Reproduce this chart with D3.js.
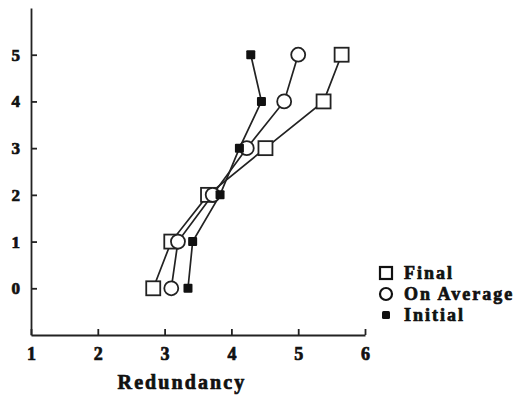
<!DOCTYPE html>
<html>
<head>
<meta charset="utf-8">
<script src="https://cdn.jsdelivr.net/npm/d3@7"></script>
<style>
  body { margin: 0; background: #fff; }
</style>
</head>
<body>
<svg id="canvas"></svg>
<script>
let w = 516
let h = 398
let serif = '"Liberation Serif", "DejaVu Serif", "Times New Roman", serif'

// levels on the vertical axis
let levels = [0, 1, 2, 3, 4, 5]
// redundancy for each series, one value per level
let finalVals = [2.83, 3.1, 3.65, 4.51, 5.38, 5.65]
let averageVals = [3.1, 3.2, 3.72, 4.23, 4.79, 5.0]
let initialVals = [3.35, 3.42, 3.83, 4.12, 4.45, 4.29]

let xTicks = [1, 2, 3, 4, 5, 6]
let yTicks = [0, 1, 2, 3, 4, 5]
let legendNames = ['Final', 'On Average', 'Initial']

let canvas = d3.select('#canvas').attr('width', w).attr('height', h)

let xScale = d3.scaleLinear().domain([1, 6]).range([31, 365])
let yScale = d3.scaleLinear().domain([-1, 6]).range([335, 8])

// heavy print look for all labels
let boldText = (sel, size) => {
  sel.style('font-family', serif).style('font-weight', 'bold')
    .style('font-size', size + 'px')
    .attr('fill', '#111').attr('stroke', '#111').attr('stroke-width', 0.7)
}

// axes, ticks point inward
let xAxis = d3.axisBottom(xScale).tickValues(xTicks).tickFormat(d3.format('d'))
  .tickSizeInner(-6).tickSizeOuter(0).tickPadding(12)
let gx = canvas.append('g').attr('transform', 'translate(0,' + yScale(-1) + ')').call(xAxis)
gx.select('.domain').attr('stroke', '#222').attr('stroke-width', 1.8)
gx.selectAll('.tick line').attr('stroke', '#222').attr('stroke-width', 1.8)
boldText(gx.selectAll('text'), 18)

let yAxis = d3.axisLeft(yScale).tickValues(yTicks).tickFormat(d3.format('d'))
  .tickSizeInner(-6).tickSizeOuter(0).tickPadding(11)
let gy = canvas.append('g').attr('transform', 'translate(' + xScale(1) + ',0)').call(yAxis)
gy.select('.domain').attr('stroke', '#222').attr('stroke-width', 1.8)
gy.selectAll('.tick line').attr('stroke', '#222').attr('stroke-width', 1.8)
boldText(gy.selectAll('text'), 17)

let xLabel = canvas.append('text')
  .attr('x', 182).attr('y', 389)
  .attr('text-anchor', 'middle')
  .style('letter-spacing', '2.1px')
  .text('Redundancy')
boldText(xLabel, 20)

let line = d3.line()
  .x((d) => xScale(d[0]))
  .y((d) => yScale(d[1]))

let series = [
  { name: 'Final', vals: finalVals, shape: 'square' },
  { name: 'On Average', vals: averageVals, shape: 'circle' },
  { name: 'Initial', vals: initialVals, shape: 'filled' }
]

series.forEach((s) => {
  let pts = s.vals.map((v, i) => [v, levels[i]])
  canvas.append('path')
    .datum(pts)
    .attr('d', line)
    .attr('fill', 'none')
    .attr('stroke', '#222')
    .attr('stroke-width', 1.7)
})

let drawMarker = (g, shape, cx, cy) => {
  if (shape === 'square') {
    g.append('rect').attr('x', cx - 7).attr('y', cy - 7).attr('width', 14).attr('height', 14)
      .attr('fill', '#fff').attr('stroke', '#222').attr('stroke-width', 1.8)
  } else if (shape === 'circle') {
    g.append('circle').attr('cx', cx).attr('cy', cy).attr('r', 7)
      .attr('fill', '#fff').attr('stroke', '#222').attr('stroke-width', 1.8)
  } else {
    g.append('rect').attr('x', cx - 4.5).attr('y', cy - 4.5).attr('width', 9).attr('height', 9)
      .attr('rx', 1).attr('fill', '#111')
  }
}

series.forEach((s) => {
  let g = canvas.append('g')
  s.vals.forEach((v, i) => drawMarker(g, s.shape, xScale(v), yScale(levels[i])))
})

// legend
let legend = canvas.append('g').attr('transform', 'translate(386,273)')
series.forEach((s, i) => {
  let g = legend.append('g').attr('transform', 'translate(0,' + (i * 21) + ')')
  if (s.shape === 'filled') {
    g.append('rect').attr('x', -4).attr('y', -4).attr('width', 8).attr('height', 8).attr('rx', 1.5).attr('fill', '#111')
  } else if (s.shape === 'circle') {
    g.append('circle').attr('r', 6).attr('fill', '#fff').attr('stroke', '#111').attr('stroke-width', 2.2)
  } else {
    g.append('rect').attr('x', -6).attr('y', -6).attr('width', 12).attr('height', 12)
      .attr('fill', '#fff').attr('stroke', '#111').attr('stroke-width', 2.2)
  }
  let t = g.append('text').attr('x', 18).attr('y', 6)
    .style('letter-spacing', '2px')
    .text(legendNames[i])
  boldText(t, 18)
})
</script>
</body>
</html>
